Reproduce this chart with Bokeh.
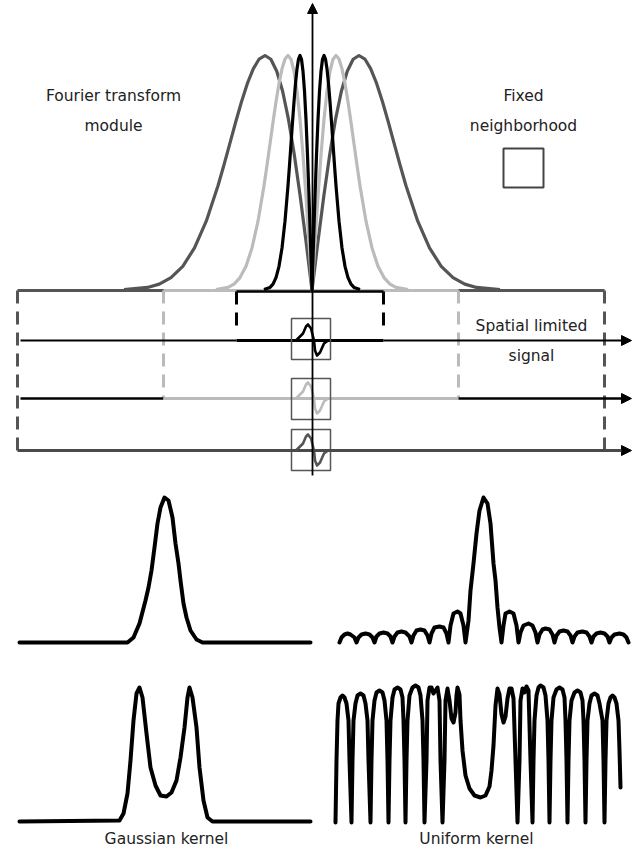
from bokeh.plotting import figure
from bokeh.models import Range1d, Arrow, NormalHead
from bokeh.embed import file_html
from bokeh.resources import INLINE
from bokeh.core.properties import value

# ---------------- data ----------------
# Fourier-transform modulus profile (shared by the three scales),
# abscissa in units of each curve's peak frequency, magnitude as a fraction of the peak
module_t = [0, 0.125, 0.25, 0.375, 0.5, 0.625, 0.75, 0.875, 1.0, 1.125, 1.25, 1.375,
            1.5, 1.625, 1.75, 1.875, 2.0, 2.25, 2.5, 2.75, 3.0, 3.25, 3.5, 4.0]
module_mag = [0, 0.205, 0.400, 0.576, 0.728, 0.848, 0.933, 0.984, 1.0, 0.985, 0.943, 0.881,
              0.803, 0.716, 0.624, 0.533, 0.446, 0.295, 0.181, 0.103, 0.055, 0.027, 0.013, 0.004]
scale_labels = ["coarse", "medium", "fine"]
scale_peak_freq = [47, 24, 12]          # peak offset from the centre of the spectrum
scale_support = [(17, 604), (163, 458), (236, 383)]   # spatial extent of each signal box
signal_levels = [340, 398, 450]         # fine, medium, coarse signal lines

# derivative-like signal inside the fixed neighborhood
wave_dx = [-16, -9, -6, -4, -1, 2, 3, 5, 8, 12, 16]
wave_dy = [0, -7, -14, -16, -12, 0, 10, 15, 12, 3, 0]

# Gaussian kernel, single scale (spectrum)
gauss_top_x = [19, 127, 133, 139, 145, 148, 151, 154, 157, 160, 164, 168, 172, 175, 178,
               180, 183, 186, 190, 196, 202, 310]
gauss_top_y = [642, 642, 637, 623, 600, 587, 570, 547, 523, 507, 497, 500, 517, 543, 563,
               580, 603, 617, 630, 639, 642, 642]

# Gaussian kernel, two scales
gauss_bot_x = [19, 119, 123, 127, 130, 133, 136, 139, 142, 146, 150, 155, 160, 166, 171,
               176, 180, 184, 187, 189, 192, 196, 199, 203, 207, 212, 310]
gauss_bot_y = [821, 820, 813, 793, 760, 720, 693, 687, 697, 733, 767, 785, 795, 796, 792,
               780, 757, 727, 697, 687, 697, 727, 767, 800, 817, 821, 821]

# Uniform kernel, single scale (sinc-like modulus)
uni_top_x = [339, 341, 344, 347, 350, 354, 356,
             358, 361, 365, 369, 372, 374,
             376, 379, 383, 387, 390, 392,
             394, 397, 401, 405, 409, 411,
             413, 416, 420, 424, 427, 429,
             431, 434, 439, 443, 446, 448,
             450, 453, 457, 460, 463, 465,
             468, 470, 473, 476, 479, 483, 487, 490, 493, 495, 497, 499, 501,
             503, 505, 509, 513, 516, 518,
             520, 523, 528, 532, 535, 537,
             539, 542, 545, 549, 552, 554,
             556, 559, 563, 567, 570, 572,
             574, 577, 582, 586, 589, 591,
             593, 596, 600, 604, 607, 609,
             611, 614, 619, 623, 626, 628]
uni_top_y = [642, 637, 634, 633, 634, 637, 642,
             637, 634, 633, 634, 637, 642,
             636, 633, 632, 633, 636, 642,
             636, 632, 631, 632, 636, 642,
             635, 630, 629, 630, 635, 642,
             633, 627, 626, 627, 633, 642,
             625, 613, 611, 613, 625, 642,
             620, 590, 563, 533, 510, 497, 503, 523, 563, 580, 607, 627, 642,
             625, 613, 611, 613, 625, 642,
             632, 625, 623, 625, 632, 642,
             634, 629, 628, 629, 634, 642,
             635, 631, 630, 631, 635, 642,
             636, 632, 631, 632, 636, 642,
             636, 633, 632, 633, 636, 642,
             637, 634, 633, 634, 637, 642]

# Uniform kernel, two scales
uni_bot_x = [335, 336, 337, 338, 340, 342, 344, 346, 348, 349, 351,
             352, 353, 355, 357, 360, 363, 365, 367, 368, 370,
             371, 372, 374, 376, 379, 382, 384, 386, 387, 388,
             389, 390, 392, 394, 397, 400, 402, 403, 404, 405,
             406, 407, 409, 412, 415, 418, 420, 422, 423, 424,
             426, 427, 429, 431, 433, 435, 437, 439, 440, 442,
             444, 445, 447, 449, 451, 453, 455, 456, 457, 459, 460, 462, 465, 469, 474, 480,
             485, 489, 491, 493, 495, 497, 499, 501, 503, 505, 507, 509, 511, 513, 515, 517,
             519, 520, 522, 524, 526, 528, 530, 532,
             533, 534, 536, 538, 540, 543, 545, 547, 548, 549,
             550, 551, 553, 556, 559, 562, 564, 565, 566, 567,
             568, 569, 571, 574, 577, 580, 582, 583, 584, 585,
             586, 587, 589, 591, 594, 597, 599, 602, 603, 604,
             605, 606, 608, 610, 612, 614, 616, 618, 619, 620]
uni_bot_y = [822, 760, 720, 703, 697, 695, 697, 703, 720, 760, 822,
             760, 720, 703, 695, 693, 695, 703, 720, 760, 822,
             760, 720, 700, 692, 690, 692, 700, 720, 760, 822,
             760, 720, 697, 689, 687, 689, 697, 720, 760, 822,
             760, 720, 695, 687, 685, 687, 695, 720, 760, 822,
             760, 700, 687, 687, 693, 690, 687, 700, 760, 822,
             760, 700, 688, 700, 718, 722, 712, 695, 687, 694, 720, 750, 775, 788, 795, 797,
             795, 786, 770, 745, 705, 688, 694, 714, 722, 716, 698, 688, 688, 698, 760, 822,
             760, 700, 688, 692, 686, 690, 760, 822,
             760, 720, 695, 687, 685, 687, 695, 720, 760, 822,
             760, 720, 697, 689, 687, 689, 697, 720, 760, 822,
             760, 720, 700, 692, 690, 692, 700, 720, 760, 822,
             760, 720, 703, 695, 693, 695, 703, 720, 760, 822,
             760, 720, 703, 697, 695, 697, 703, 720, 750, 787]

label_text = ["Fourier transform", "module", "Fixed", "neighborhood",
              "Spatial limited", "signal", "Gaussian kernel", "Uniform kernel"]

# ---------------- layout / style constants ----------------
CX = 311.5          # centre of the spectrum / vertical axis
BASE = 290          # spectrum baseline
PEAK_H = 235        # height of the spectrum peaks
COL = {"coarse": "#555555", "medium": "#bbbbbb", "fine": "#000000"}
TXT = "#222222"
FONT = value("DejaVu Sans")
DASH = "13 8"

p = figure(width=644, height=853, x_range=Range1d(0, 644), y_range=Range1d(853, 0),
           toolbar_location=None, output_backend="svg",
           x_axis_location=None, y_axis_location=None, min_border=0)
p.grid.visible = False
p.outline_line_color = None
p.background_fill_color = "white"
p.border_fill_color = "white"

# ---- boxes (spatial supports) ----
box_bottom = {"coarse": signal_levels[2], "medium": signal_levels[1], "fine": 330}
box_top = {"coarse": BASE, "medium": BASE, "fine": BASE + 1}
for name, (x0, x1) in zip(scale_labels, scale_support):
    c = COL[name]
    lw = 3 if name != "fine" else 2.5
    p.line([x0, x1], [box_top[name], box_top[name]], line_color=c, line_width=lw)
    p.segment(x0=[x0, x1], y0=[box_top[name]] * 2, x1=[x0, x1], y1=[box_bottom[name]] * 2,
              line_color=c, line_width=3, line_dash=DASH)

# ---- spectra ----
for name, pk in zip(scale_labels, scale_peak_freq):
    xs = [CX - t * pk for t in reversed(module_t)] + [CX + t * pk for t in module_t[1:]]
    ys = [BASE - m * PEAK_H for m in reversed(module_mag)] + [BASE - m * PEAK_H for m in module_mag[1:]]
    p.line(xs, ys, line_color=COL[name], line_width=3.2, line_join="round")

# ---- signal lines ----
head = lambda: NormalHead(size=10, fill_color="black", line_color="black", line_width=1)
# fine
p.line([20, 236], [signal_levels[0]] * 2, line_color="black", line_width=2)
p.line([236, 383], [signal_levels[0]] * 2, line_color="black", line_width=3.2)
p.add_layout(Arrow(end=head(), x_start=383, y_start=signal_levels[0], x_end=631,
                   y_end=signal_levels[0], line_color="black", line_width=2))
# medium
p.line([20, 163], [signal_levels[1]] * 2, line_color="black", line_width=2.5)
p.line([163, 458], [signal_levels[1]] * 2, line_color=COL["medium"], line_width=3)
p.add_layout(Arrow(end=head(), x_start=458, y_start=signal_levels[1], x_end=631,
                   y_end=signal_levels[1], line_color="black", line_width=2.5))
# coarse
p.add_layout(Arrow(end=head(), x_start=17, y_start=signal_levels[2], x_end=631,
                   y_end=signal_levels[2], line_color="#4a4a4a", line_width=3))

# ---- fixed neighborhood boxes and local signal ----
box_cy = [338.5, 398.5, 449.5]
p.rect(x=[CX - 1] * 3, y=box_cy, width=39, height=41, fill_color=None,
       line_color="#555555", line_width=1.5)
for lvl, name in zip(signal_levels, ["fine", "medium", "coarse"]):
    p.line([CX + d for d in wave_dx], [lvl + d for d in wave_dy],
           line_color=COL[name], line_width=2.6, line_join="round")

# legend square
p.rect(x=[523], y=[167.5], width=40, height=39, fill_color=None,
       line_color="#444444", line_width=2)

# vertical frequency axis
p.add_layout(Arrow(end=NormalHead(size=10, fill_color="black", line_color="black", line_width=1),
                   x_start=CX + 0.5, y_start=475, x_end=CX + 0.5, y_end=3,
                   line_color="black", line_width=1.8))

# ---- bottom kernels ----
for xs, ys in [(gauss_top_x, gauss_top_y), (gauss_bot_x, gauss_bot_y),
               (uni_top_x, uni_top_y), (uni_bot_x, uni_bot_y)]:
    p.line(xs, ys, line_color="black", line_width=4, line_join="round", line_cap="round")

# ---- texts ----
label_x = [113, 113, 523, 523, 531, 531, 166, 476]
label_y = [95, 125, 95, 125, 325, 355, 838, 838]
p.text(x=label_x, y=label_y, text=label_text, text_font=FONT,
       text_font_size=value("15.5px"), text_align="center", text_baseline="middle",
       text_color=TXT)

open("out.html", "w").write(file_html(p, INLINE))
